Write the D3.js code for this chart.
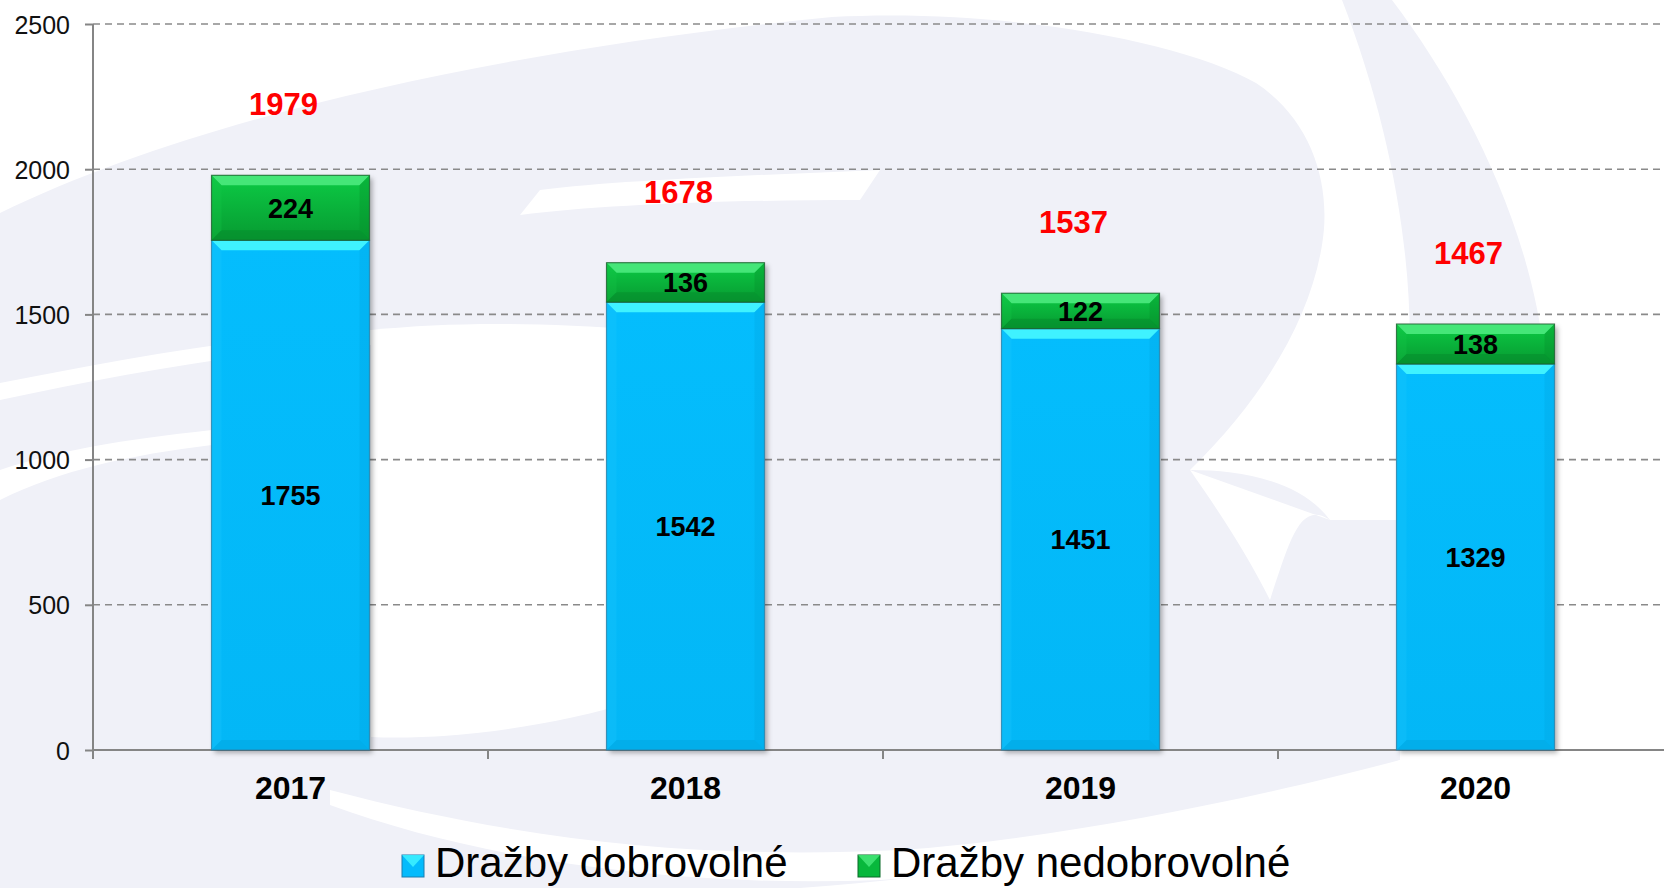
<!DOCTYPE html>
<meta charset="utf-8">
<style>
body { margin: 0; background: #fff; }
svg { display: block; }
text { font-family: "Liberation Sans", Arial, Helvetica, sans-serif; }
.grid line { stroke: #8a8a8a; stroke-width: 1.6px; stroke-dasharray: 7,5; }
.axis path, .axis line { stroke: #858585; stroke-width: 2px; }
.ytick { font-size: 25px; fill: #111; text-anchor: end; }
.xlab { font-size: 32px; font-weight: bold; fill: #000; text-anchor: middle; }
.seg { font-size: 27px; font-weight: bold; fill: #000; text-anchor: middle; }
.total { font-size: 31px; font-weight: bold; fill: #ff0000; text-anchor: middle; }
.leg { font-size: 42px; fill: #000; }
</style>
<svg width="1664" height="888"></svg>
<script src="https://cdn.jsdelivr.net/npm/d3@7"></script>
<script>

var years = ["2017", "2018", "2019", "2020"];
var dobrovolne = [1755, 1542, 1451, 1329];
var nedobrovolne = [224, 136, 122, 138];
var totalLabels = ["1979", "1678", "1537", "1467"];
var yTicks = [0, 500, 1000, 1500, 2000, 2500];
var seriesNames = ["Dražby dobrovolné", "Dražby nedobrovolné"];

var svg = d3.select("svg"),
    width = +svg.attr("width"),
    height = +svg.attr("height");

var defs = svg.append("defs");

// background watermark (rough)
var bg = svg.append("g").attr("fill", "#f0f1f8");
bg.append("path").attr("d",
  "M0,213 C212,110 530,47 832,17 C1000,8 1180,40 1256,83 C1312,120 1332,185 1322,245 " +
  "C1310,320 1262,400 1190,470 C1240,470 1300,480 1330,520 L1400,520 L1400,760 " +
  "C1250,820 1050,870 800,888 L0,888 Z");
bg.append("path").attr("d",
  "M1342,0 L1392,0 C1460,90 1530,220 1545,360 C1552,420 1548,470 1540,500 L1470,560 " +
  "C1420,560 1395,470 1405,420 C1420,300 1400,150 1342,0 Z");
var wh = svg.append("g").attr("fill", "#fff");
wh.append("path").attr("d", "M371,330 C450,322 540,322 640,330 L640,700 C540,730 440,740 371,737 Z");
wh.append("path").attr("d", "M0,383 C120,360 250,335 371,330 L371,345 C250,350 120,375 0,400 Z");
wh.append("path").attr("d", "M520,215 C600,205 720,200 860,200 L880,170 C760,175 620,180 540,190 Z");
wh.append("path").attr("d", "M0,470 C60,450 120,440 212,430 L212,445 C130,455 60,470 0,500 Z");
wh.append("path").attr("d", "M1190,470 C1225,520 1250,560 1270,600 C1290,540 1300,500 1330,520 Z");
wh.append("path").attr("d", "M330,790 C520,840 700,860 900,850 C1050,840 1250,800 1400,760 L1420,775 C1250,830 1050,870 880,880 C680,888 480,860 330,805 Z");

var x = d3.scaleBand().domain(years).range([93, 1673]).paddingInner(0.6).paddingOuter(0.3);
var y = d3.scaleLinear().domain([0, 2500]).range([750, 24]);

// gridlines
svg.append("g").attr("class", "grid").selectAll("line")
  .data(yTicks.filter(function(d) { return d > 0; }))
  .enter().append("line")
  .attr("x1", 93).attr("x2", width)
  .attr("y1", function(d) { return y(d); }).attr("y2", function(d) { return y(d); });

// y axis
var yAxis = svg.append("g").attr("class", "axis")
  .attr("transform", "translate(93,0)")
  .call(d3.axisLeft(y).tickValues(yTicks).tickFormat(d3.format("d")).tickSize(8).tickPadding(15).tickSizeOuter(0));
yAxis.select(".domain").attr("d", "M0,24V759");
yAxis.selectAll("text").attr("class", "ytick").attr("dy", "0.36em");

// x axis
var xAxis = svg.append("g").attr("class", "axis");
xAxis.append("line").attr("x1", 93).attr("x2", width).attr("y1", 750).attr("y2", 750);
var step = x.step(), gap = (step - x.bandwidth()) / 2;
xAxis.selectAll(".xt").data(years).enter().append("line")
  .attr("x1", function(d) { return x(d) - gap; }).attr("x2", function(d) { return x(d) - gap; })
  .attr("y1", 750).attr("y2", 759);
svg.append("g").selectAll("text").data(years).enter().append("text")
  .attr("class", "xlab")
  .attr("x", function(d) { return x(d) + x.bandwidth() / 2; })
  .attr("y", 799)
  .text(function(d) { return d; });

// bar styles
var styles = [
  {main: "#04bbfc", top: "#3ff2ff", left: "#1ec6fd", right: "#03a6e2", bottom: "#039fd9", g1: "#04bdfd", g2: "#03b7f6"},
  {main: "#08b83c", top: "#45e678", left: "#16c84a", right: "#068f2c", bottom: "#05842a", g1: "#0ccb45", g2: "#079a31"}
];
styles.forEach(function(s, i) {
  var g = defs.append("linearGradient").attr("id", "grad" + i).attr("x1", 0).attr("x2", 0).attr("y1", 0).attr("y2", 1);
  g.append("stop").attr("offset", "0%").attr("stop-color", s.g1);
  g.append("stop").attr("offset", "100%").attr("stop-color", s.g2);
});
var f = defs.append("filter").attr("id", "shadow").attr("x", "-10%").attr("y", "-10%").attr("width", "130%").attr("height", "130%");
f.append("feDropShadow").attr("dx", 3).attr("dy", 3).attr("stdDeviation", 2.5).attr("flood-color", "#000").attr("flood-opacity", 0.3);

var data = years.map(function(yr, i) { return {year: yr, a: dobrovolne[i], b: nedobrovolne[i]}; });
var stack = d3.stack().keys(["a", "b"]);
var series = stack(data);

var bars = svg.append("g");
// shadows first
bars.selectAll(".sh").data(data).enter().append("rect")
  .attr("x", function(d) { return x(d.year); })
  .attr("y", function(d) { return y(d.a + d.b); })
  .attr("width", x.bandwidth())
  .attr("height", function(d) { return y(0) - y(d.a + d.b); })
  .attr("fill", "#888").attr("filter", "url(#shadow)");

function bevel(g, x0, y0, w, h, s, i) {
  var b = Math.min(10, h / 3), x1 = x0 + w, y1 = y0 + h;
  g.append("rect").attr("x", x0).attr("y", y0).attr("width", w).attr("height", h).attr("fill", "url(#grad" + i + ")");
  g.append("path").attr("d", "M" + x0 + "," + y0 + "L" + x1 + "," + y0 + "L" + (x1 - b) + "," + (y0 + b) + "L" + (x0 + b) + "," + (y0 + b) + "Z").attr("fill", s.top);
  g.append("path").attr("d", "M" + x0 + "," + y0 + "L" + (x0 + b) + "," + (y0 + b) + "L" + (x0 + b) + "," + (y1 - b) + "L" + x0 + "," + y1 + "Z").attr("fill", s.left).attr("opacity", 0.3);
  g.append("path").attr("d", "M" + x1 + "," + y0 + "L" + (x1 - b) + "," + (y0 + b) + "L" + (x1 - b) + "," + (y1 - b) + "L" + x1 + "," + y1 + "Z").attr("fill", s.right).attr("opacity", 0.35);
  g.append("path").attr("d", "M" + x0 + "," + y1 + "L" + (x0 + b) + "," + (y1 - b) + "L" + (x1 - b) + "," + (y1 - b) + "L" + x1 + "," + y1 + "Z").attr("fill", s.bottom).attr("opacity", 0.4);
  g.append("rect").attr("x", x0).attr("y", y0).attr("width", w).attr("height", h)
    .attr("fill", "none").attr("stroke", i ? "#1e5a2e" : "#2a7fa8").attr("stroke-width", 1.2).attr("stroke-opacity", 0.7);
}

series.forEach(function(ser, i) {
  ser.forEach(function(d) {
    var g = bars.append("g");
    bevel(g, x(d.data.year), y(d[1]), x.bandwidth(), y(d[0]) - y(d[1]), styles[i], i);
  });
});

// segment labels
series.forEach(function(ser) {
  bars.selectAll(null).data(ser).enter().append("text")
    .attr("class", "seg")
    .attr("x", function(d) { return x(d.data.year) + x.bandwidth() / 2; })
    .attr("y", function(d) { return (y(d[0]) + y(d[1])) / 2; })
    .attr("dy", "0.36em")
    .text(function(d) { return d[1] - d[0]; });
});

// totals
svg.append("g").selectAll("text").data(data).enter().append("text")
  .attr("class", "total")
  .attr("x", function(d) { return x(d.year) + x.bandwidth() / 2 - 7; })
  .attr("y", function(d) { return y(d.a + d.b) - 71; })
  .attr("dy", "0.36em")
  .text(function(d, i) { return totalLabels[i]; });

// legend
var legX = [402, 858];
var leg = svg.append("g");
seriesNames.forEach(function(name, i) {
  var s = styles[i];
  var g = leg.append("g").attr("transform", "translate(" + legX[i] + ",855)");
  g.append("rect").attr("width", 22).attr("height", 22).attr("fill", s.main).attr("stroke", i ? "#0a6a28" : "#1a7fb0").attr("stroke-width", 1);
  g.append("path").attr("d", "M0,0L22,0L11,12Z").attr("fill", s.top).attr("opacity", 0.85);
  g.append("text").attr("class", "leg").attr("x", 33).attr("y", 22).text(name);
});

</script>
